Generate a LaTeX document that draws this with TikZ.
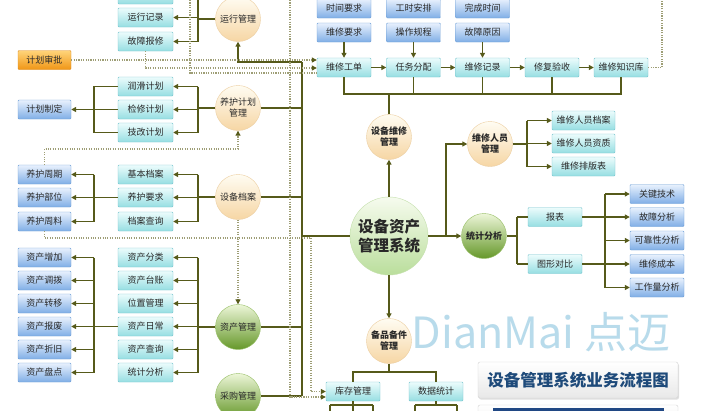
\documentclass[tikz,border=0pt]{standalone}
\usepackage{fontspec}
\setmainfont{Noto Sans CJK SC}
\usetikzlibrary{arrows.meta,shadows}

\definecolor{linecol}{RGB}{86,90,26}
\definecolor{dotcol}{RGB}{158,158,118}
\definecolor{txtcol}{RGB}{40,40,40}
\definecolor{cyantop}{RGB}{236,252,252}
\definecolor{cyanbot}{RGB}{150,222,226}
\definecolor{cyanline}{RGB}{118,196,206}
\definecolor{bluetop}{RGB}{232,241,253}
\definecolor{bluebot}{RGB}{128,174,230}
\definecolor{blueline}{RGB}{108,158,214}
\definecolor{orgtop}{RGB}{255,212,122}
\definecolor{orgbot}{RGB}{240,150,22}
\definecolor{orgline}{RGB}{222,140,30}
\definecolor{creamtop}{RGB}{255,252,242}
\definecolor{creambot}{RGB}{246,214,164}
\definecolor{creamline}{RGB}{236,206,160}
\definecolor{greentop}{RGB}{236,246,216}
\definecolor{greenbot}{RGB}{102,152,42}
\definecolor{greenline}{RGB}{150,190,100}
\definecolor{maintop}{RGB}{246,251,238}
\definecolor{mainbot}{RGB}{186,222,156}
\definecolor{mainline}{RGB}{196,224,172}
\definecolor{wmcol}{RGB}{184,219,235}
\definecolor{titlecol}{RGB}{30,74,122}
\definecolor{barcol}{RGB}{32,72,132}

\tikzset{
  boxbase/.style={rectangle, rounded corners=1pt, inner sep=0pt, minimum height=19pt,
    font=\fontsize{9}{10}\selectfont, text=txtcol},
  cbox/.style={boxbase, draw=cyanline, top color=cyantop, bottom color=cyanbot, minimum width=#1},
  cbox/.default=55pt,
  bbox/.style={boxbase, draw=blueline, top color=bluetop, bottom color=bluebot, minimum width=#1},
  bbox/.default=54pt,
  obox/.style={boxbase, draw=orgline, top color=orgtop, bottom color=orgbot, minimum width=53pt},
  ballbase/.style={circle, inner sep=0pt, minimum size=45pt, align=center,
    font=\fontsize{9}{11}\selectfont, text=txtcol},
  cball/.style={ballbase, draw=creamline, top color=creamtop, bottom color=creambot},
  gball/.style={ballbase, draw=greenline, top color=greentop, bottom color=greenbot},
  link/.style={draw=linecol, line width=1.3pt},
  arr/.style={link, -{Triangle[length=5pt,width=5pt]}},
  dots/.style={draw=dotcol, line width=1.1pt, dash pattern=on 1.1pt off 1.3pt},
  darr/.style={dots, -{Triangle[length=5pt,width=5pt,color=linecol]}}
}

\begin{document}
\begin{tikzpicture}[x=1pt, y=-1pt]
  \useasboundingbox (0,0) rectangle (707,410);
  \clip (0,0) rectangle (707,410);
  \fill[white] (0,0) rectangle (707,410);

  % Watermark
  \node[text=wmcol, font=\fontsize{43}{43}\selectfont] (wm) at (541,332) {DianMai 点迈};

  % First column
  \node[obox] (jhsp) at (44.5,60) {计划审批};
  \foreach \nm/\y/\txt in {jhzd/109.5/计划制定, yhzq/174.5/养护周期, yhbw/197.5/养护部位,
      yhzl/221.5/养护周料, zczj/257.5/资产增加, zcdb/280.5/资产调拨, zczy/303.5/资产转移,
      zcbf/326.5/资产报废, zczjiu/349.5/资产折旧, zcpd/372.5/资产盘点} {
    \node[bbox=53pt] (\nm) at (44.5,\y) {\txt};
  }

  % Second column
  \node[cbox] (b0) at (145.5,-5.5) {};
  \foreach \nm/\y/\txt in {yxjl/17.5/运行记录, gzbx/41.5/故障报修, rhjh/86.5/润滑计划,
      jxjh/109.5/检修计划, jgjh/132.5/技改计划, jbda/174.5/基本档案, yhyq/197.5/养护要求,
      dacx/221.5/档案查询, zcfl/257.5/资产分类, zctz/280.5/资产台账, wzgl/303.5/位置管理,
      zcrc/326.5/资产日常, zccx/349.5/资产查询, tjfxb/372.5/统计分析} {
    \node[cbox] (\nm) at (145.5,\y) {\txt};
  }

  % Circles on the left
  \node[cball] (yxgl) at (238,19) {运行管理};
  \node[cball] (yhjhgl) at (238,108) {养护计划\\管理};
  \node[cball] (sbda) at (238,197) {设备档案};
  \node[gball] (zcgl) at (238,327) {资产管理};
  \node[gball] (cggl) at (238,396) {采购管理};

  % Brackets from the circles
  \coordinate (k1) at (198,0);
  \coordinate (k2) at (94,0);
  \draw[link] (yxgl.west) -- (yxgl.west -| k1);
  \draw[link] (b0.east -| k1) -- (gzbx.east -| k1);
  \foreach \nm in {b0,yxjl,gzbx} \draw[arr] (\nm.east -| k1) -- (\nm.east);
  \draw[link] (yhjhgl.west) -- (yhjhgl.west -| k1);
  \draw[link] (rhjh.east -| k1) -- (jgjh.east -| k1);
  \foreach \nm in {rhjh,jxjh,jgjh} \draw[arr] (\nm.east -| k1) -- (\nm.east);
  \draw[link] (sbda.west) -- (sbda.west -| k1);
  \draw[link] (jbda.east -| k1) -- (dacx.east -| k1);
  \foreach \nm in {jbda,yhyq,dacx} \draw[arr] (\nm.east -| k1) -- (\nm.east);
  \draw[link] (zcgl.west) -- (zcgl.west -| k1);
  \draw[link] (zcfl.east -| k1) -- (tjfxb.east -| k1);
  \foreach \nm in {zcfl,zctz,wzgl,zcrc,zccx,tjfxb} \draw[arr] (\nm.east -| k1) -- (\nm.east);

  % Brackets to the first column
  \draw[link] (rhjh.west) -- (rhjh.west -| k2) -- (jgjh.west -| k2) -- (jgjh.west);
  \draw[arr] (jxjh.west) -- (jhzd.east);
  \draw[link] (yhyq.west) -- (yhyq.west -| k2);
  \draw[link] (yhzq.east -| k2) -- (yhzl.east -| k2);
  \foreach \nm in {yhzq,yhbw,yhzl} \draw[arr] (\nm.east -| k2) -- (\nm.east);
  \draw[link] (zcrc.west) -- (zcrc.west -| k2);
  \draw[link] (zczj.east -| k2) -- (zcpd.east -| k2);
  \foreach \nm in {zczj,zcdb,zczy,zcbf,zczjiu,zcpd} \draw[arr] (\nm.east -| k2) -- (\nm.east);

  % Centre
  \node[ballbase, draw=mainline, top color=maintop, bottom color=mainbot, minimum size=78pt,
    font=\fontsize{15.5}{18.5}\selectfont\bfseries] (xt) at (389,236) {设备资产\\管理系统};
  \node[cball, font=\fontsize{9}{11}\selectfont\bfseries] (sbwx) at (389,137) {设备维修\\管理};
  \node[cball, font=\fontsize{9}{11}\selectfont\bfseries] (bpbj) at (389,341) {备品备件\\管理};
  \node[cball, font=\fontsize{9}{11}\selectfont\bfseries] (wxry) at (490,144) {维修人员\\管理};
  \node[gball, font=\fontsize{9}{11}\selectfont\bfseries] (tjfx) at (484,236) {统计分析};

  % Trunk
  \coordinate (t1) at (302,62);
  \coordinate (t2) at (302,396);
  \draw[link] (t1) -- (t2);
  \draw[arr] (t1) -| (yxgl.south);
  \foreach \nm in {yhjhgl,sbda,zcgl,cggl} \draw[link] (\nm.east) -- (\nm.east -| t1);
  \draw[link] (xt.west) -- (xt.west -| t1);

  % Maintenance flow
  \foreach \nm/\x/\txt in {wxgd/344/维修工单, rwfp/413.5/任务分配, wxjl/482.5/维修记录,
      xfys/552/修复验收, wxzsk/621/维修知识库} {
    \node[cbox=54pt] (\nm) at (\x,67.5) {\txt};
  }
  \foreach \nm/\x/\txt in {sjyq/344/时间要求, gsap/413.5/工时安排, wcsj/482.5/完成时间} {
    \node[bbox] (\nm) at (\x,8.5) {\txt};
  }
  \foreach \nm/\x/\txt in {wxyq/344/维修要求, czgc/413.5/操作规程, gzyy/482.5/故障原因} {
    \node[bbox] (\nm) at (\x,32.5) {\txt};
  }
  \draw[arr] (wxyq) -- (wxgd);
  \draw[arr] (czgc) -- (rwfp);
  \draw[arr] (gzyy) -- (wxjl);
  \draw[arr] (wxgd) -- (rwfp);
  \draw[arr] (rwfp) -- (wxjl);
  \draw[arr] (wxjl) -- (xfys);
  \draw[arr] (xfys) -- (wxzsk);
  \draw[arr] (xt) -- (sbwx);
  \coordinate (bus) at (389,94);
  \draw[link] (sbwx.north) -- (bus);
  \draw[link] (wxgd.south) -- (wxgd.south |- bus) -- (wxzsk.south |- bus) -- (wxzsk.south);
  \foreach \nm in {rwfp,wxjl,xfys} \draw[link] (\nm.south) -- (\nm.south |- bus);

  % Staff and statistics
  \coordinate (j1) at (446,236);
  \draw[link] (xt.east) -- (j1);
  \draw[arr] (j1) -- (tjfx.west);
  \draw[arr] (j1) |- (wxry.west);
  \foreach \nm/\y/\txt in {ryda/120.5/维修人员档案, ryzz/143.5/维修人员资质, pbb/166.5/维修排版表} {
    \node[cbox=63pt] (\nm) at (583.5,\y) {\txt};
  }
  \coordinate (j2) at (527,144);
  \draw[link] (wxry.east) -- (j2);
  \draw[link] (ryda.west -| j2) -- (pbb.west -| j2);
  \foreach \nm in {ryda,ryzz,pbb} \draw[arr] (\nm.west -| j2) -- (\nm.west);

  \node[cbox=54pt] (bb) at (555,217) {报表};
  \node[cbox=54pt] (txdb) at (555,264) {图形对比};
  \coordinate (j3) at (517,236);
  \draw[link] (tjfx.east) -- (j3);
  \draw[link] (bb.west -| j3) -- (txdb.west -| j3);
  \draw[link] (bb.west -| j3) -- (bb.west);
  \draw[link] (txdb.west -| j3) -- (txdb.west);
  \foreach \nm/\y/\txt in {gjjs/194/关键技术, gzfx/217/故障分析, kkx/240.5/可靠性分析,
      wxcb/264/维修成本, gzl/287.5/工作量分析} {
    \node[bbox] (\nm) at (657,\y) {\txt};
  }
  \coordinate (j4) at (605,0);
  \draw[link] (gjjs.west -| j4) -- (gzl.west -| j4);
  \draw[link] (bb.east) -- (gzfx.west -| j4);
  \draw[link] (txdb.east) -- (wxcb.west -| j4);
  \foreach \nm in {gjjs,gzfx,kkx,wxcb,gzl} \draw[arr] (\nm.west -| j4) -- (\nm.west);

  % Spare parts
  \draw[arr] (xt) -- (bpbj);
  \node[cbox=54pt] (kcgl) at (353,391.5) {库存管理};
  \node[cbox=54pt] (sjtj) at (436,391.5) {数据统计};
  \coordinate (bus2) at (389,372);
  \draw[link] (bpbj.south) -- (bus2);
  \draw[link] (kcgl.north) |- (sjtj.north |- bus2) -- (sjtj.north);
  \coordinate (kb) at (353,405);
  \coordinate (sb) at (436,405);
  \draw[link] (kcgl.south) -- (kb);
  \draw[link] (kb -| 330,0) -- (kb -| 373,0);
  \foreach \x in {330,353,373} \draw[link] (kb -| \x,0) -- ++(0,10);
  \draw[link] (sjtj.south) -- (sb);
  \draw[link] (sb -| 415,0) -- (sb -| 457,0);
  \foreach \x in {415,457} \draw[link] (sb -| \x,0) -- ++(0,10);

  % Dotted links
  \coordinate (d1) at (190,0);
  \coordinate (d2) at (290,0);
  \coordinate (d3) at (311,238);
  \coordinate (d4) at (238,149);
  \coordinate (d5) at (662,0);
  \draw[darr] (jhsp.east) -- (jhsp.east -| wxgd.west);
  \draw[darr] (gzbx.south) |- ([yshift=-0.5pt]wxgd.west);
  \draw[dots] (d1) |- ([yshift=-5.5pt]wxgd.west);
  \draw[darr] (d2) |- ([yshift=-5.5pt]kcgl.west);
  \draw[darr] (yhzq.north) |- (d4) -- (yhjhgl.south);
  \draw[darr] (yhzl.south) |- (d3) |- (kcgl.west);
  \draw[darr] (sbda.south) -- (zcgl.north);
  \draw[dots] (wxzsk.east) -| (d5);

  % Title
  \node[rectangle, rounded corners=2pt, draw=gray!35, top color=white, bottom color=gray!18,
    minimum width=200pt, minimum height=36pt,
    drop shadow={opacity=0.25, shadow xshift=1pt, shadow yshift=-1.5pt},
    text=titlecol, font=\fontsize{16.5}{18}\selectfont\bfseries] (title) at (578,380) {设备管理系统业务流程图};
  \node[rectangle, rounded corners=2pt, draw=gray!35, top color=white, bottom color=gray!18,
    minimum width=200pt, minimum height=30pt] (sub) at (578,420) {};
  \node[rectangle, fill=barcol, minimum width=171pt, minimum height=20pt] (subbar) at (578,418) {};
\end{tikzpicture}
\end{document}
